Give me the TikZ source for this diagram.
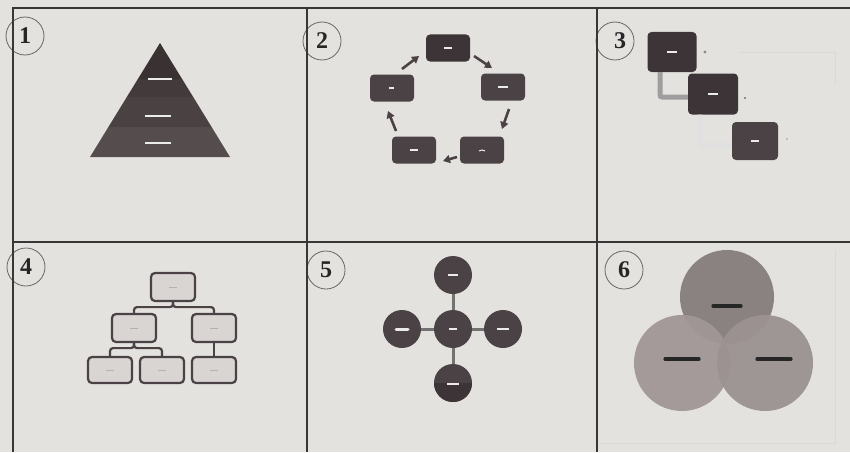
\documentclass[tikz,border=0pt]{standalone}
\usepackage{fontspec}
\setmainfont{Liberation Serif}
\usetikzlibrary{arrows.meta}
\definecolor{paper}{HTML}{E4E2DF}
\definecolor{ink}{HTML}{3A3536}
\definecolor{boxdark}{HTML}{4A4244}
\definecolor{boxdarker}{HTML}{3C3436}
\definecolor{orgfill}{HTML}{D8D5D3}
\definecolor{pyra}{HTML}{554C4E}
\definecolor{pyrb}{HTML}{4A4143}
\definecolor{pyrc}{HTML}{433A3C}
\definecolor{pyrd}{HTML}{3A3133}
\definecolor{ctop}{HTML}{8A8181}
\definecolor{cleft}{HTML}{A09796}
\definecolor{cright}{HTML}{9B9291}
\begin{document}
\begin{tikzpicture}[x=1pt,y=-1pt,
  grid/.style={draw=ink,line width=1.6pt},
  numc/.style={circle,draw=black!60,line width=0.8pt,minimum size=38pt,inner sep=0pt,font=\fontsize{24}{24}\selectfont\bfseries,text=black!85},
  cbox/.style={rectangle,rounded corners=4pt,fill=boxdark,minimum width=44pt,minimum height=27pt,inner sep=0pt},
  obox/.style={rectangle,rounded corners=4pt,draw=boxdark,line width=2.2pt,fill=orgfill,minimum width=44pt,minimum height=28pt,inner sep=0pt},
  ball/.style={circle,fill=boxdark,minimum size=38pt,inner sep=0pt},
  wmark/.style={draw=white!92!black,line width=2pt},
  cyc/.style={draw=boxdark,line width=2.6pt,-{Triangle[length=7pt,width=8pt]}},
  orgline/.style={draw=boxdark,line width=2.2pt,rounded corners=3pt},
  spoke/.style={draw=black!55,line width=3pt},
  elbow/.style={line width=5pt,rounded corners=2pt},
  dash6/.style={draw=black!85,line width=3.2pt,line cap=round}
]
\useasboundingbox (0,0) rectangle (850,452);
\fill[paper] (0,0) rectangle (850,452);

% ---------- panel 1: pyramid ----------
\fill[pyra] (90,157) -- (230,157) -- (211.6,127) -- (108.4,127) -- cycle;
\fill[pyrb] (108.4,127) -- (211.6,127) -- (193.2,97) -- (126.8,97) -- cycle;
\fill[pyrc] (126.8,97) -- (193.2,97) -- (182.1,79) -- (137.9,79) -- cycle;
\fill[pyrd] (137.9,79) -- (182.1,79) -- (160,43) -- cycle;
\draw[wmark] (148,79) -- (172,79);
\draw[wmark] (145,116) -- (171,116);
\draw[wmark] (145,143) -- (171,143);
\node[numc] (n1) at (25,36) {1};

% ---------- panel 2: cycle ----------
\node[numc] (n2) at (322,41) {2};
\node[cbox,fill=boxdarker] (c2t) at (448,48) {};
\node[cbox] (c2r) at (503,87) {};
\node[cbox] (c2l) at (392,88) {};
\node[cbox] (c2bl) at (414,150) {};
\node[cbox] (c2br) at (482,150) {};
\draw[wmark] ([xshift=-4pt]c2t.center) -- ([xshift=4pt]c2t.center);
\draw[wmark] ([xshift=-5pt]c2r.center) -- ([xshift=5pt]c2r.center);
\draw[wmark] ([xshift=-3pt]c2l.center) -- ([xshift=2pt]c2l.center);
\draw[wmark] ([xshift=-4pt]c2bl.center) -- ([xshift=4pt]c2bl.center);
\draw[wmark,line width=1pt] ([xshift=-3pt,yshift=-1pt]c2br.center) -- (c2br.center) -- ([xshift=3pt,yshift=-1pt]c2br.center);
\coordinate (a1s) at (402,69); \coordinate (a1e) at (419,56);
\coordinate (a2s) at (474,56); \coordinate (a2e) at (492,68);
\coordinate (a3s) at (509,109); \coordinate (a3e) at (502,129);
\coordinate (a4s) at (457,157); \coordinate (a4e) at (443,161);
\coordinate (a5s) at (396,131); \coordinate (a5e) at (388,111);
\draw[cyc] (a1s) -- (a1e);
\draw[cyc] (a2s) -- (a2e);
\draw[cyc] (a3s) -- (a3e);
\draw[cyc] (a4s) -- (a4e);
\draw[cyc] (a5s) -- (a5e);

% ---------- panel 3: staircase ----------
\node[numc] (n3) at (615,41) {\hspace{10pt}3};
\node[cbox,fill=boxdarker,minimum width=49pt,minimum height=40pt] (b31) at (672,52) {};
\draw[elbow,draw=black!38] ([xshift=-12pt]b31.south) |- (688,97) coordinate (e1);
\node[cbox,fill=boxdarker,minimum width=50pt,minimum height=41pt] (b32) at (713,94) {};
\draw[elbow,draw=black!12] ([xshift=-13pt]b32.south) |- (732,145) coordinate (e2);
\node[cbox,minimum width=46pt,minimum height=38pt] (b33) at (755,141) {};
\draw[wmark] ([xshift=-5pt]b31.center) -- ([xshift=5pt]b31.center);
\draw[wmark,line width=1.2pt] ([xshift=-5pt]b32.center) -- ([xshift=5pt]b32.center);
\draw[wmark] ([xshift=-4pt]b33.center) -- ([xshift=4pt]b33.center);
\fill[black!45] (705,52) circle[radius=1.6pt];
\fill[black!55] (745,98) circle[radius=1.2pt];
\fill[black!30] (787,139) circle[radius=1.2pt];
\draw[black!15,line width=0.6pt] (740,52) -- (835,52) -- (835,85);

% ---------- panel 4: org chart ----------
\node[numc] (n4) at (26,267) {4};
\node[obox] (o4t) at (173,287) {};
\node[obox] (o4l) at (134,328) {};
\node[obox] (o4r) at (214,328) {};
\node[obox,minimum height=26pt] (o4b1) at (110,370) {};
\node[obox,minimum height=26pt] (o4b2) at (162,370) {};
\node[obox,minimum height=26pt] (o4b3) at (214,370) {};
\draw[orgline] (o4t.south) -- ++(0,5) -| (o4l.north);
\draw[orgline] (o4t.south) -- ++(0,5) -| (o4r.north);
\draw[orgline] (o4l.south) -- ++(0,5) -| (o4b1.north);
\draw[orgline] (o4l.south) -- ++(0,5) -| (o4b2.north);
\draw[orgline] (o4r.south) -- (o4b3.north);
\foreach \n in {o4t,o4l,o4r,o4b1,o4b2,o4b3}
  \draw[draw=black!30,line width=1pt] ([xshift=-4pt]\n.center) -- ([xshift=4pt]\n.center);

% ---------- panel 5: hub ----------
\node[numc] (n5) at (326,270) {5};
\node[ball] (h5c) at (453,329) {};
\node[ball] (h5t) at (453,275) {};
\node[ball] (h5l) at (402,329) {};
\node[ball] (h5r) at (503,329) {};
\node[ball] (h5b) at (453,383) {};
\draw[spoke] (h5c) -- (h5t);
\draw[spoke] (h5c) -- (h5l);
\draw[spoke] (h5c) -- (h5r);
\draw[spoke] (h5c) -- (h5b);
\begin{scope}
  \clip (430,383) rectangle (476,405);
  \fill[boxdarker] (h5b.center) circle[radius=19pt];
\end{scope}
\draw[wmark] ([xshift=-5pt]h5t.center) -- ([xshift=5pt]h5t.center);
\draw[wmark,line width=1.2pt] ([xshift=-4pt]h5c.center) -- ([xshift=4pt]h5c.center);
\draw[wmark,line width=3pt,line cap=round] ([xshift=-6pt]h5l.center) -- ([xshift=6pt]h5l.center);
\draw[wmark] ([xshift=-6pt]h5r.center) -- ([xshift=6pt]h5r.center);
\draw[wmark,line width=1.5pt] ([xshift=-6pt,yshift=-1pt]h5b.center) -- ([xshift=6pt,yshift=-1pt]h5b.center);

% ---------- panel 6: overlapping circles ----------
\node[numc] (n6) at (624,270) {6};
\node[circle,fill=ctop,minimum size=94pt,inner sep=0pt] (v6t) at (727,297) {};
\node[circle,fill=cleft,fill opacity=0.95,minimum size=96pt,inner sep=0pt] (v6l) at (682,363) {};
\node[circle,fill=cright,fill opacity=0.95,minimum size=96pt,inner sep=0pt] (v6r) at (765,363) {};
\draw[dash6] ([xshift=-14pt,yshift=-9pt]v6t.center) -- ([xshift=14pt,yshift=-9pt]v6t.center);
\draw[dash6] ([xshift=-17pt,yshift=4pt]v6l.center) -- ([xshift=17pt,yshift=4pt]v6l.center);
\draw[dash6] ([xshift=-8pt,yshift=4pt]v6r.center) -- ([xshift=26pt,yshift=4pt]v6r.center);
\draw[black!15,line width=0.6pt] (600,443) -- (835,443) -- (835,250);

% ---------- grid ----------
\draw[grid] (12,8) -- (850,8);
\draw[grid] (12,242) -- (850,242);
\draw[grid] (13,8) -- (13,452);
\draw[grid] (307,8) -- (307,452);
\draw[grid] (597,8) -- (597,452);
\end{tikzpicture}
\end{document}
